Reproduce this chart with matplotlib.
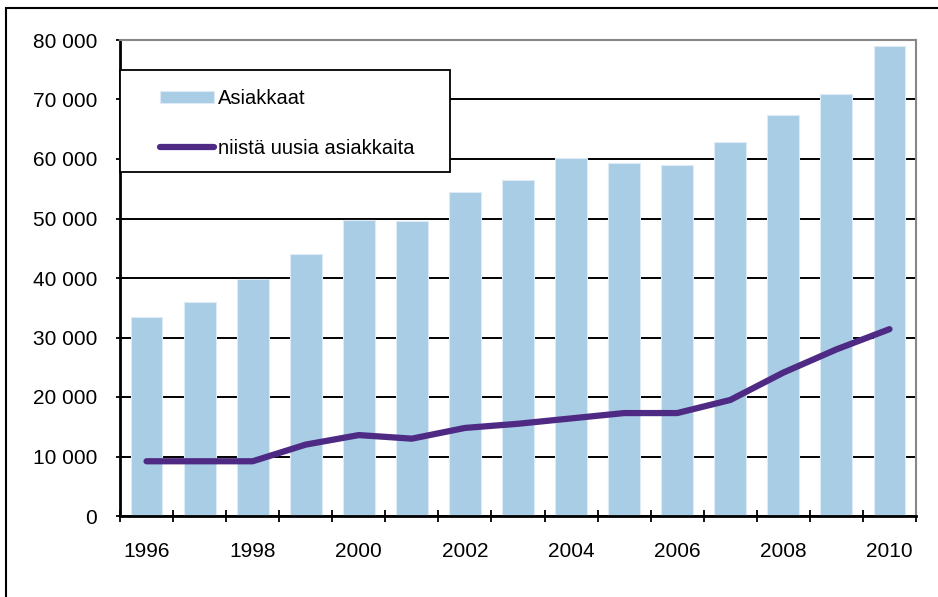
import numpy as np
import matplotlib
matplotlib.use('Agg')
import matplotlib.pyplot as plt
from matplotlib.patches import Rectangle
from matplotlib.ticker import FuncFormatter

plt.rcParams['font.family'] = ['Liberation Sans', 'DejaVu Sans']

# data
years = list(range(1996, 2011))
asiakkaat = [33500, 35900, 39900, 44000, 49700, 49600, 54400, 56400,
             60100, 59400, 59000, 62800, 67400, 70900, 79000]
uudet = [9200, 9200, 9200, 12000, 13600, 13000, 14800, 15500,
         16400, 17300, 17300, 19500, 24100, 28000, 31400]

bar_color = '#A9CDE4'
line_color = '#4E2A84'

fig = plt.figure(figsize=(9.38, 5.97), dpi=100)
ax = fig.add_axes([120 / 938, 81 / 597, 796 / 938, 476 / 597])

x = np.arange(len(years))
bars = ax.bar(x, asiakkaat, width=0.6, color=bar_color, edgecolor='#DCEBF5',
              linewidth=0.8, zorder=2, label='Asiakkaat')
line, = ax.plot(x, uudet, color=line_color, lw=4.5, solid_capstyle='round',
                solid_joinstyle='round', zorder=3, label='niistä uusia asiakkaita')

ax.set_xlim(-0.5, len(years) - 0.5)
ax.set_ylim(0, 80000)

# y axis
ax.set_yticks(np.arange(0, 80001, 10000))
ax.yaxis.set_major_formatter(FuncFormatter(lambda v, p: f'{int(v):,}'.replace(',', ' ')))
ax.tick_params(axis='y', direction='inout', length=6, width=1.3, pad=13.5,
               labelsize=15, color='black')
ax.grid(axis='y', color='black', lw=1.4)
ax.set_axisbelow(True)

# x axis: ticks between categories, labels every other year
ax.set_xticks(x[::2])
ax.set_xticklabels([str(y) for y in years[::2]])
ax.set_xticks(np.arange(-0.5, len(years), 1), minor=True)
ax.tick_params(axis='x', which='major', length=0, pad=19, labelsize=15)
ax.tick_params(axis='x', which='minor', direction='inout', length=8, width=1.3)

for s in ['left', 'bottom']:
    ax.spines[s].set_color('black')
    ax.spines[s].set_linewidth(2)
for s in ['top', 'right']:
    ax.spines[s].set_color('#888888')
    ax.spines[s].set_linewidth(1.5)

# legend with its own box
ax.add_patch(Rectangle((0.0, 0.723), 0.415, 0.214, transform=ax.transAxes,
                       facecolor='white', edgecolor='black', lw=1.3,
                       zorder=4, clip_on=False))
leg = ax.legend([bars, line], ['Asiakkaat', 'niistä uusia asiakkaita'],
                loc='upper left', bbox_to_anchor=(0.05, 0.897), frameon=False,
                fontsize=14.5, borderpad=0, borderaxespad=0, handlelength=2.7,
                handletextpad=0.2, labelspacing=1.55, handleheight=0.6)
leg.set_zorder(5)

# outer chart border
fig.add_artist(Rectangle((6 / 938, -0.1), 1.2, 1.1 - 8 / 597,
                         transform=fig.transFigure, fill=False,
                         edgecolor='black', lw=1.5))

fig.savefig('out.png', dpi=100)
